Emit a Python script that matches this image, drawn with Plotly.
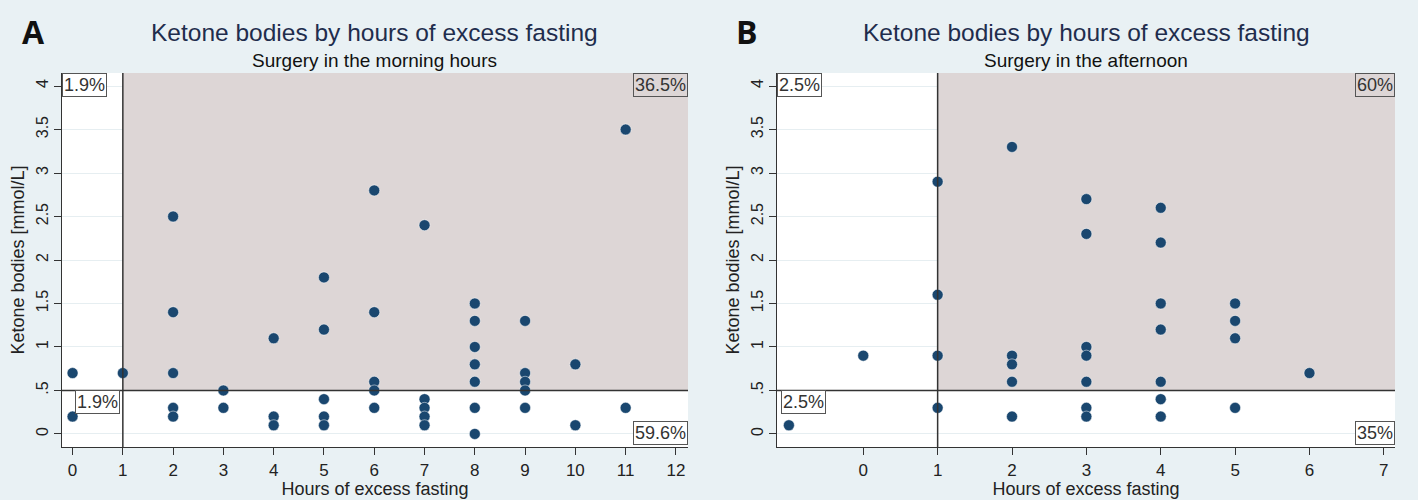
import plotly.graph_objects as go

# ---------------- data ----------------
a_hours = [0, 0, 1, 2, 2, 2, 2, 2, 3, 3, 4, 4, 4, 5, 5, 5, 5, 5,
           6, 6, 6, 6, 6, 7, 7, 7, 7, 7, 8, 8, 8, 8, 8, 8, 8,
           9, 9, 9, 9, 9, 10, 10, 11, 11]
a_ketone = [0.7, 0.2, 0.7, 2.5, 1.4, 0.7, 0.3, 0.2, 0.5, 0.3, 1.1, 0.2, 0.1,
            1.8, 1.2, 0.4, 0.2, 0.1, 2.8, 1.4, 0.6, 0.5, 0.3, 2.4, 0.4, 0.3,
            0.2, 0.1, 1.5, 1.3, 1.0, 0.8, 0.6, 0.3, 0.0, 1.3, 0.7, 0.6, 0.5,
            0.3, 0.8, 0.1, 3.5, 0.3]

b_hours = [-1, 0, 1, 1, 1, 1, 2, 2, 2, 2, 2, 3, 3, 3, 3, 3, 3, 3,
           4, 4, 4, 4, 4, 4, 4, 5, 5, 5, 5, 6]
b_ketone = [0.1, 0.9, 2.9, 1.6, 0.9, 0.3, 3.3, 0.9, 0.8, 0.6, 0.2,
            2.7, 2.3, 1.0, 0.9, 0.6, 0.3, 0.2, 2.6, 2.2, 1.5, 1.2, 0.6,
            0.4, 0.2, 1.5, 1.3, 1.1, 0.3, 0.7]

y_tickvals = [0, 0.5, 1, 1.5, 2, 2.5, 3, 3.5, 4]
y_ticktext = ["0", ".5", "1", "1.5", "2", "2.5", "3", "3.5", "4"]
a_xticks = list(range(0, 13))
b_xticks = list(range(0, 8))

a_pcts = ["1.9%", "36.5%", "1.9%", "59.6%"]   # TL, TR, BL, BR
b_pcts = ["2.5%", "60%", "2.5%", "35%"]

titles = ["Ketone bodies by hours of excess fasting"] * 2
subtitles = ["Surgery in the morning hours", "Surgery in the afternoon"]
panel_letters = ["A", "B"]
x_title = "Hours of excess fasting"
y_title = "Ketone bodies [mmol/L]"

# ---------------- style ----------------
W, H = 1418, 500
BG = "#e9f1f4"
SHADE = "#ddd6d6"
NAVY = "#1a476f"
TITLE_C = "#1f2d4d"
LINE_C = "#333333"
FONT = "Liberation Sans, Arial, sans-serif"

ylim = [-0.15, 4.15]
a_xlim = [-0.21, 12.24]
b_xlim = [-1.16, 7.15]

# pixel geometry of plot areas
top_px, bot_px = 73, 447
a_px = (62, 688)
b_px = (777, 1395)

def dom_x(p):
    return [p[0] / W, p[1] / W]

ydom = [1 - bot_px / H, 1 - top_px / H]

fig = go.Figure()

mk = dict(color=NAVY, size=11, line=dict(width=0.5, color="white"))
fig.add_trace(go.Scatter(x=a_hours, y=a_ketone, mode="markers", xaxis="x", yaxis="y",
                         marker=mk, showlegend=False, hoverinfo="x+y"))
fig.add_trace(go.Scatter(x=b_hours, y=b_ketone, mode="markers", xaxis="x2", yaxis="y2",
                         marker=mk, showlegend=False, hoverinfo="x+y"))

axis_common = dict(showline=True, linecolor=LINE_C, linewidth=1.2, ticks="outside",
                   ticklen=7, tickcolor=LINE_C, tickwidth=1.2, zeroline=False)
xfont = dict(family=FONT, size=17, color="#222")
yfont = dict(family=FONT, size=16, color="#222")
tfont = dict(family=FONT, size=18, color="#222")

def xaxis(dom, rng, ticks, anchor):
    return dict(domain=dom, range=rng, tickvals=ticks, showgrid=False, anchor=anchor,
                tickfont=xfont, **axis_common,
                title=dict(text=x_title, font=tfont, standoff=0))

def yaxis(anchor):
    return dict(domain=ydom, range=ylim, tickvals=y_tickvals, ticktext=y_ticktext,
                tickangle=-90, showgrid=True, gridcolor="#e6eef1", gridwidth=1,
                anchor=anchor, tickfont=yfont, **axis_common,
                title=dict(text=y_title, font=tfont, standoff=4))

fig.update_layout(
    width=W, height=H,
    paper_bgcolor=BG, plot_bgcolor="white",
    margin=dict(l=0, r=0, t=0, b=0),
    font=dict(family=FONT, color="#222"),
    xaxis=xaxis(dom_x(a_px), a_xlim, a_xticks, "y"),
    yaxis=yaxis("x"),
    xaxis2=xaxis(dom_x(b_px), b_xlim, b_xticks, "y2"),
    yaxis2=yaxis("x2"),
)

shapes = []
annotations = []
panels = [("x", "y", a_xlim, a_px, a_pcts, 0.02),
          ("x2", "y2", b_xlim, b_px, b_pcts, 0.006)]
for i, (xr, yr, xlim, px, pcts, bl_off) in enumerate(panels):
    # shaded quadrant
    shapes.append(dict(type="rect", xref=xr, yref=yr, x0=1, x1=xlim[1], y0=0.5, y1=ylim[1],
                       fillcolor=SHADE, line=dict(width=0), layer="between"))
    # reference lines
    shapes.append(dict(type="line", xref=xr, yref=yr, x0=1, x1=1, y0=ylim[0], y1=ylim[1],
                       line=dict(color=LINE_C, width=1.5), layer="above"))
    shapes.append(dict(type="line", xref=xr, yref=yr, x0=xlim[0], x1=xlim[1], y0=0.5, y1=0.5,
                       line=dict(color=LINE_C, width=1.5), layer="above"))

    box = dict(font=dict(family=FONT, size=18, color="#333"), bordercolor="#555",
               borderwidth=1, borderpad=1, showarrow=False)
    xd = xr + " domain"
    yd = yr + " domain"
    annotations.append(dict(text=pcts[0], xref=xd, yref=yd, x=0, y=1, xanchor="left",
                            yanchor="top", bgcolor="white", **box))
    annotations.append(dict(text=pcts[1], xref=xd, yref=yd, x=1, y=1, xanchor="right",
                            yanchor="top", bgcolor=SHADE, **box))
    annotations.append(dict(text=pcts[2], xref=xd, yref=yr, x=bl_off, y=0.5, xanchor="left",
                            yanchor="top", bgcolor="white", **box))
    annotations.append(dict(text=pcts[3], xref=xd, yref=yd, x=1, y=0.005, xanchor="right",
                            yanchor="bottom", bgcolor="white", **box))

    # titles
    cx = (px[0] + px[1]) / 2 / W
    annotations.append(dict(text=titles[i], xref="paper", yref="paper", x=cx, y=1 - 32 / H,
                            xanchor="center", yanchor="middle", showarrow=False,
                            font=dict(family=FONT, size=24.5, color=TITLE_C)))
    annotations.append(dict(text=subtitles[i], xref="paper", yref="paper", x=cx, y=1 - 60 / H,
                            xanchor="center", yanchor="middle", showarrow=False,
                            font=dict(family=FONT, size=19, color="#111")))
    lx = (20 if i == 0 else 734) / W
    annotations.append(dict(text="<b>" + panel_letters[i] + "</b>", xref="paper", yref="paper",
                            x=lx, y=1 - 31 / H, xanchor="left", yanchor="middle",
                            showarrow=False, font=dict(family="Open Sans, Arial", size=32, color="#111")))

fig.update_layout(shapes=shapes, annotations=annotations)
fig.write_html("out.html", config={"displayModeBar": False},
               post_script="document.body.style.margin='0';document.body.style.background='%s';" % BG)
